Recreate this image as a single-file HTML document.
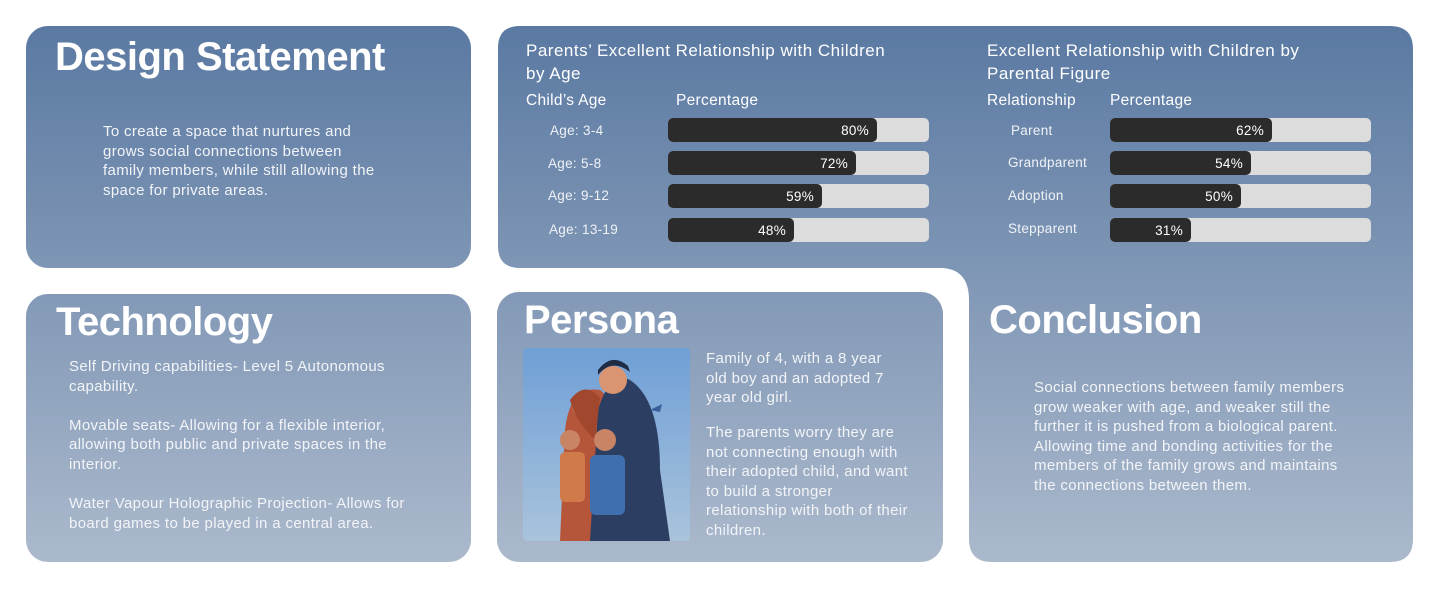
<!DOCTYPE html>
<html><head><meta charset="utf-8"><style>
body{margin:0;width:1440px;height:589px;background:#fff;position:relative;overflow:hidden;font-family:"Liberation Sans",sans-serif;color:#fff}
h1{position:absolute;margin:0;font-size:40px;font-weight:bold;letter-spacing:-0.5px;line-height:1}
.p{position:absolute;font-size:15px;line-height:19.6px;color:#f2f4f8;white-space:nowrap;letter-spacing:0.35px}
.bar{position:absolute;height:24px;width:261px;background:#dcdcdc;border-radius:5px}
.bar i{position:absolute;left:0;top:0;bottom:0;background:#2b2b2b;border-radius:5px;font-style:normal;font-size:13.5px;line-height:25px;text-align:right;padding-right:8px;box-sizing:border-box;letter-spacing:0.3px}
.lab{position:absolute;font-size:13.5px;color:#f0f2f6;letter-spacing:0.3px}
.hd{position:absolute;font-size:15.5px;letter-spacing:0.3px}
.ti{position:absolute;font-size:17px;line-height:23px;letter-spacing:0.5px;white-space:nowrap}
</style></head><body>
<svg width="1440" height="589" style="position:absolute;left:0;top:0">
<defs><linearGradient id="g" gradientUnits="userSpaceOnUse" x1="0" y1="26" x2="0" y2="562">
<stop offset="0" stop-color="#5a79a2"/><stop offset="1" stop-color="#abb9cc"/></linearGradient>
<linearGradient id="sky" x1="0" y1="0" x2="0" y2="1"><stop offset="0" stop-color="#6f9fd6"/><stop offset="1" stop-color="#a9c3dc"/></linearGradient></defs>
<rect x="26" y="26" width="445" height="242" rx="22" fill="url(#g)"/>
<rect x="26" y="294" width="445" height="268" rx="22" fill="url(#g)"/>
<rect x="497" y="292" width="446" height="270" rx="22" fill="url(#g)"/>
<path d="M520 26 H1390 Q1413 26 1413 49 V539 Q1413 562 1390 562 H992 Q969 562 969 539 V300 Q969 270 943 268 H520 Q498 268 498 246 V48 Q498 26 520 26 Z" fill="url(#g)"/>
<rect x="523" y="348" width="167" height="193" rx="4" fill="url(#sky)"/>
<path d="M560 541 L565 430 Q570 385 600 390 Q615 400 610 440 L600 541Z" fill="#b5553a"/>
<path d="M590 541 L598 410 Q610 370 630 380 Q660 400 660 470 L670 541Z" fill="#2c3f63"/>
<circle cx="613" cy="380" r="14" fill="#d99472"/><path d="M598 375 Q612 358 630 372 L628 366 Q612 352 598 370Z" fill="#1f2c45"/>
<circle cx="585" cy="405" r="13" fill="#d99472"/><path d="M570 400 Q585 380 600 398 L595 440 Q575 420 570 400Z" fill="#a1472e"/>
<circle cx="605" cy="440" r="11" fill="#c98466"/><rect x="590" y="455" width="35" height="60" rx="6" fill="#3f6fae"/>
<circle cx="570" cy="440" r="10" fill="#c98466"/><rect x="560" y="452" width="25" height="50" rx="5" fill="#d07a4a"/>
<path d="M650 410 l12 -6 l-2 8z" fill="#3b5f9a"/>
</svg>
<h1 style="left:55px;top:37px">Design Statement</h1>
<div class="p" style="left:103px;top:122px">To create a space that nurtures and<br>grows social connections between<br>family members, while still allowing the<br>space for private areas.</div>
<h1 style="left:56px;top:302px">Technology</h1>
<div class="p" style="left:69px;top:357px">Self Driving capabilities- Level 5 Autonomous<br>capability.<br><br>Movable seats- Allowing for a flexible interior,<br>allowing both public and private spaces in the<br>interior.<br><br>Water Vapour Holographic Projection- Allows for<br>board games to be played in a central area.</div>
<h1 style="left:524px;top:300px">Persona</h1>
<div class="p" style="left:706px;top:349px">Family of 4, with a 8 year<br>old boy and an adopted 7<br>year old girl.</div>
<div class="p" style="left:706px;top:423px">The parents worry they are<br>not connecting enough with<br>their adopted child, and want<br>to build a stronger<br>relationship with both of their<br>children.</div>
<h1 style="left:989px;top:300px">Conclusion</h1>
<div class="p" style="left:1034px;top:378px">Social connections between family members<br>grow weaker with age, and weaker still the<br>further it is pushed from a biological parent.<br>Allowing time and bonding activities for the<br>members of the family grows and maintains<br>the connections between them.</div>

<div class="ti" style="left:526px;top:39px">Parents’ Excellent Relationship with Children<br>by Age</div>
<div class="hd" style="left:526px;top:92px">Child’s Age</div>
<div class="hd" style="left:676px;top:92px">Percentage</div>
<div class="lab" style="left:550px;top:123px">Age: 3-4</div>
<div class="lab" style="left:548px;top:156px">Age: 5-8</div>
<div class="lab" style="left:548px;top:188px">Age: 9-12</div>
<div class="lab" style="left:549px;top:222px">Age: 13-19</div>
<div class="bar" style="left:668px;top:118px"><i style="width:209px">80%</i></div>
<div class="bar" style="left:668px;top:151px"><i style="width:188px">72%</i></div>
<div class="bar" style="left:668px;top:184px"><i style="width:154px">59%</i></div>
<div class="bar" style="left:668px;top:218px"><i style="width:126px">48%</i></div>

<div class="ti" style="left:987px;top:39px">Excellent Relationship with Children by<br>Parental Figure</div>
<div class="hd" style="left:987px;top:92px">Relationship</div>
<div class="hd" style="left:1110px;top:92px">Percentage</div>
<div class="lab" style="left:1011px;top:123px">Parent</div>
<div class="lab" style="left:1008px;top:155px">Grandparent</div>
<div class="lab" style="left:1008px;top:188px">Adoption</div>
<div class="lab" style="left:1008px;top:221px">Stepparent</div>
<div class="bar" style="left:1110px;top:118px"><i style="width:162px">62%</i></div>
<div class="bar" style="left:1110px;top:151px"><i style="width:141px">54%</i></div>
<div class="bar" style="left:1110px;top:184px"><i style="width:131px">50%</i></div>
<div class="bar" style="left:1110px;top:218px"><i style="width:81px">31%</i></div>
</body></html>
